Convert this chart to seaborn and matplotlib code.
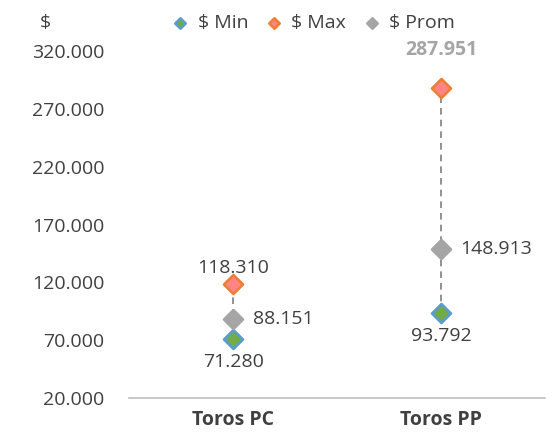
import matplotlib
matplotlib.use("Agg")
import matplotlib.pyplot as plt
import seaborn as sns
import pandas as pd
from matplotlib.ticker import FuncFormatter

categories = ["Toros PC", "Toros PP"]
min_vals = [71280, 93792]
max_vals = [118310, 287951]
prom_vals = [88151, 148913]

sns.set_style("white")
plt.rcParams['font.family'] = ['Open Sans', 'DejaVu Sans']
text_color = "#404040"
fs = 14

df = pd.DataFrame({"cat": categories, "min": min_vals, "max": max_vals, "prom": prom_vals})

fig = plt.figure(figsize=(5.54, 4.33), dpi=100)
ax = fig.add_axes([0.233, 0.081, 0.751, 0.801])

# dashed range line
for i, row in df.iterrows():
    ax.plot([row["cat"], row["cat"]], [row["min"], row["max"]], ls=(0, (4, 3)),
            color="#7f7f7f", lw=1.2, zorder=1)

series = [
    ("min", "$ Min", "#70AD47", "#5B9BD5"),
    ("max", "$ Max", "#FF8585", "#ED7D31"),
    ("prom", "$ Prom", "#A5A5A5", "#A5A5A5"),
]
for col, lab, fc, ec in series:
    sns.scatterplot(data=df, x="cat", y=col, marker="D", s=95, color=fc,
                    edgecolor=ec, linewidth=1.8, ax=ax, label=lab, zorder=3)

fmt = lambda v: f"{v:,.0f}".replace(",", ".")
for i, row in df.iterrows():
    ax.annotate(fmt(row["min"]), (i, row["min"]), xytext=(0, -10), textcoords="offset points",
                ha="center", va="top", fontsize=fs, color=text_color)
    ax.annotate(fmt(row["prom"]), (i, row["prom"]), xytext=(14, 0), textcoords="offset points",
                ha="left", va="center", fontsize=fs, color=text_color)
    if i == 1:
        ax.annotate(fmt(row["max"]), (i, row["max"]), xytext=(0, 20), textcoords="offset points",
                    ha="center", va="bottom", fontsize=fs, color="#A5A5A5", fontweight="bold")
    else:
        ax.annotate(fmt(row["max"]), (i, row["max"]), xytext=(0, 5), textcoords="offset points",
                    ha="center", va="bottom", fontsize=fs, color=text_color)

ax.set_xlim(-0.5, 1.5)
ax.set_ylim(20000, 320000)
ax.set_yticks(range(20000, 320001, 50000))
ax.yaxis.set_major_formatter(FuncFormatter(lambda v, p: fmt(v)))
ax.tick_params(axis="y", labelsize=fs, labelcolor=text_color, length=0, pad=18)
ax.tick_params(axis="x", labelsize=fs, labelcolor=text_color, length=0, pad=9)
for t in ax.get_xticklabels():
    t.set_fontweight("bold")
ax.set_xlabel("")
ax.set_ylabel("")
for s in ["top", "right", "left"]:
    ax.spines[s].set_visible(False)
ax.spines["bottom"].set_color("#bfbfbf")
ax.spines["bottom"].set_linewidth(1.2)

fig.text(0.072, 0.948, "$", fontsize=fs, color=text_color, ha="left", va="center")

leg = ax.legend(loc="center", bbox_to_anchor=(0.43, 1.08), ncol=3, frameon=False,
                fontsize=fs, handletextpad=-0.1, columnspacing=0.3, markerscale=0.55,
                labelcolor=text_color)

fig.savefig("out.png", dpi=100)
